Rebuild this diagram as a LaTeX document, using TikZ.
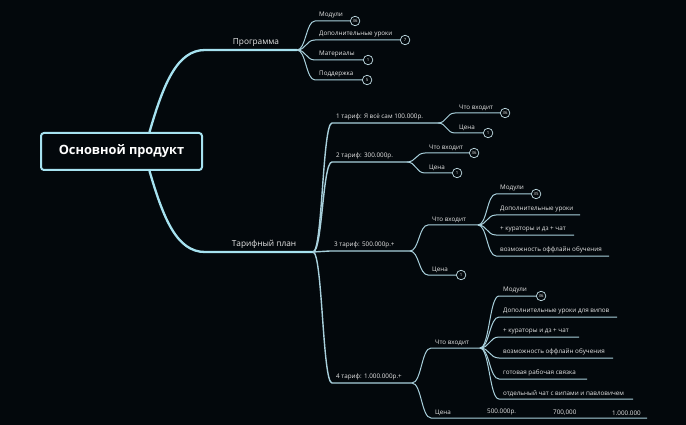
\documentclass[tikz,border=0pt]{standalone}
\usepackage{fontspec}
\setmainfont{Open Sans}
\usetikzlibrary{calc}
\definecolor{bgc}{HTML}{03080C}
\definecolor{mainln}{HTML}{A6E2F0}
\definecolor{ln}{HTML}{A8D0DC}
\definecolor{txt}{HTML}{E8E8E8}
\pgfdeclarelayer{bg}
\pgfsetlayers{bg,main}
\tikzset{
 lbl/.style={text=txt, font=\fontsize{6.3}{7}\selectfont, inner sep=0pt, anchor=south west},
 br/.style={draw=ln, line width=1pt},
 tbr/.style={draw=ln, line width=1.4pt},
 mainbr/.style={draw=mainln, line width=2.3pt},
 badge/.style={circle, draw=ln!70!white, line width=0.7pt, fill=bgc, minimum size=9.5pt, inner sep=0pt, text=txt, font=\fontsize{4.3}{5}\selectfont},
 rootbox/.style={draw=mainln, line width=2pt, rounded corners=3pt, fill=bgc, text=white, minimum width=161pt, minimum height=37pt, font=\bfseries\fontsize{12.8}{14}\selectfont},
 mainlbl/.style={text=txt, font=\fontsize{8.3}{10}\selectfont, inner sep=0pt, anchor=south},
}
\newcommand\leaf[7][]{%
 \coordinate (#3s) at (#4,#5);
 \coordinate (#3) at (#6,#5);
 \coordinate (#3m) at ($(#2)!0.5!(#3s)$);
 \begin{pgfonlayer}{bg}
 \draw[br,#1] (#2) .. controls (#3m |- #2) and (#3m |- #3s) .. (#3s) -- (#3);
 \end{pgfonlayer}
 \node[lbl] (#3t) at ([xshift=4pt,yshift=2.5pt]#3s) {#7};
}
\newcommand\leafb[8][]{%
 \leaf[#1]{#2}{#3}{#4}{#5}{#6}{#7}%
 \node[badge,anchor=west] (#3b) at (#3) {#8};
}
\begin{document}
\begin{tikzpicture}[x=1pt,y=-1pt]
\begin{pgfonlayer}{bg}
\fill[bgc] (0,0) rectangle (686,425);
\end{pgfonlayer}
\useasboundingbox (0,0) rectangle (686,425);
% root
\node[rootbox] (root) at (121.5,151.5) {Основной продукт};
% main branches
\coordinate (progs) at (205,50);
\coordinate (prog) at (297,50);
\coordinate (tarifs) at (205,252);
\coordinate (tarif) at (313,252);
\begin{pgfonlayer}{bg}
\draw[mainbr] ([xshift=28pt]root.north) .. controls +(14,-48) and +(-28,0) .. (progs) -- (prog);
\draw[mainbr] ([xshift=28pt]root.south) .. controls +(14,48) and +(-28,0) .. (tarifs) -- (tarif);
\end{pgfonlayer}
\node[mainlbl] (progt) at (256,46.5) {Программа};
\node[mainlbl] (tarift) at (264,248.5) {Тарифный план};
% Программа
\leafb{prog}{p1}{315}{21}{350}{Модули}{36}
\leafb{prog}{p2}{315}{40}{400}{Дополнительные уроки}{7}
\leafb{prog}{p3}{315}{60}{363}{Материалы}{1}
\leafb{prog}{p4}{315}{80}{362}{Поддержка}{5}
% Тарифы
\leaf[tbr]{tarif}{t1}{332}{123}{438}{1 тариф: Я всё сам 100.000р.}
\leaf[tbr]{tarif}{t2}{332}{162}{407}{2 тариф: 300.000р.}
\leaf[tbr]{tarif}{t3}{330}{251}{410}{3 тариф: 500.000р.+}
\leaf[tbr]{tarif}{t4}{332}{383}{412}{4 тариф: 1.000.000р.+}
% T1
\leafb{t1}{a1}{455}{113}{500}{Что входит}{36}
\leafb{t1}{a2}{455}{133}{483}{Цена}{1}
% T2
\leafb{t2}{b1}{425}{153}{469}{Что входит}{36}
\leafb{t2}{b2}{425}{173}{452}{Цена}{1}
% T3
\leaf{t3}{c1}{428}{225}{478}{Что входит}
\leafb{t3}{c2}{428}{275}{456}{Цена}{1}
\leafb{c1}{d1}{496}{194}{531}{Модули}{35}
\leaf{c1}{d2}{496}{215}{580}{Дополнительные уроки}
\leaf{c1}{d3}{496}{235}{574}{+ кураторы и дз + чат}
\leaf{c1}{d4}{496}{256}{609}{возможность оффлайн обучения}
% T4
\leaf{t4}{e1}{431}{348}{480}{Что входит}
\leaf{t4}{e2}{431}{418}{647}{Цена}
\node[lbl] (pr1) at (487,415.5) {500.000р.};
\node[lbl] (pr2) at (553,415.5) {700,000};
\node[lbl] (pr3) at (612,415.5) {1.000.000};
\leafb{e1}{f1}{499}{296}{536}{Модули}{36}
\leaf{e1}{f2}{499}{317}{617}{Дополнительные уроки для випов}
\leaf{e1}{f3}{499}{337}{579}{+ кураторы и дз + чат}
\leaf{e1}{f4}{499}{358}{613}{возможность оффлайн обучения}
\leaf{e1}{f5}{499}{379}{587}{готовая рабочая связка}
\leaf{e1}{f6}{499}{399}{633}{отдельный чат с випами и павловичем}
\end{tikzpicture}
\end{document}
